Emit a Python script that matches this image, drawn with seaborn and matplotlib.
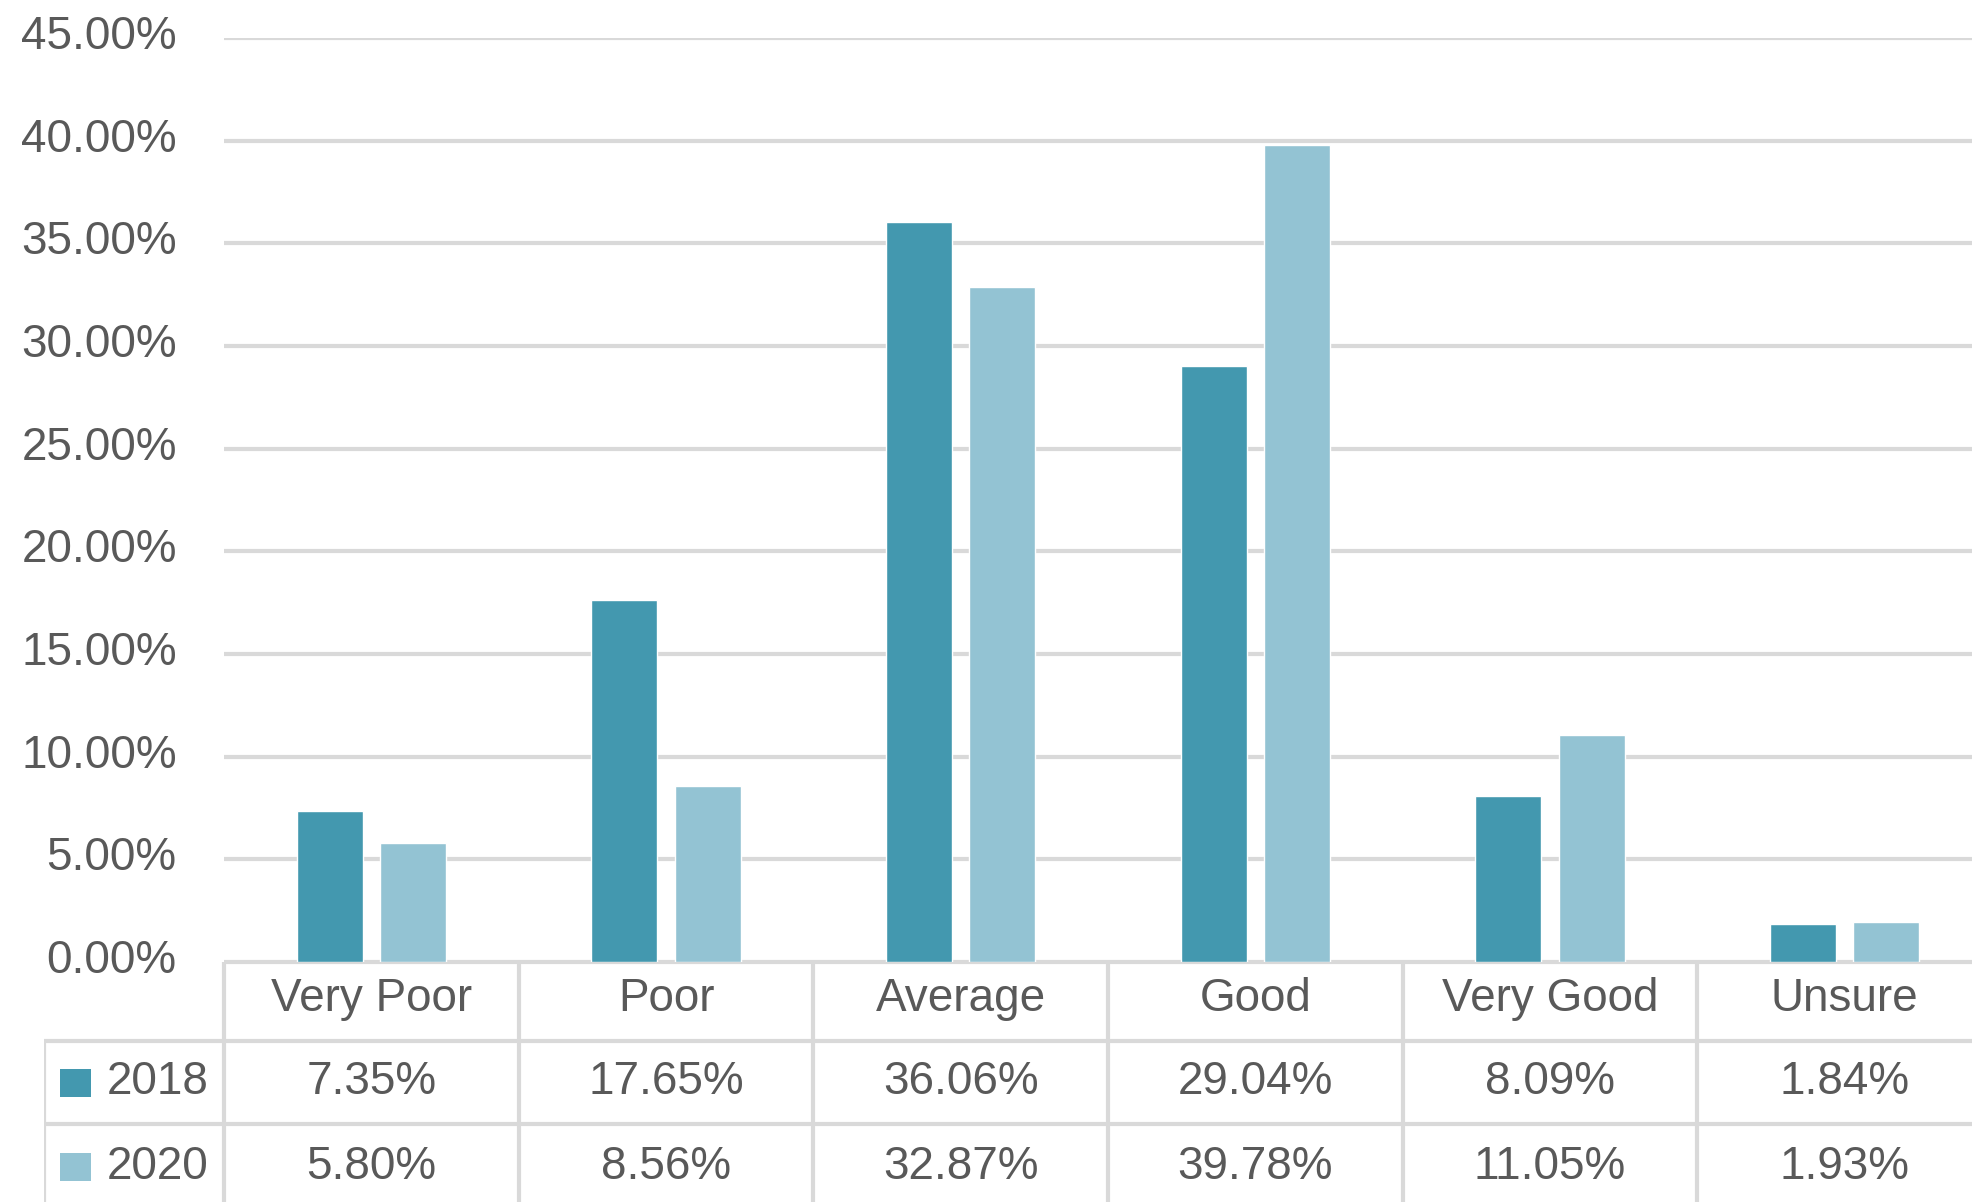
"""
Grouped bar chart with an Excel-style data table underneath: 2018 vs 2020 ratings.
"""
import pandas as pd
import seaborn as sns
import matplotlib.pyplot as plt
from matplotlib.patches import Rectangle
from matplotlib.transforms import ScaledTranslation

# data
categories = ['Very Poor', 'Poor', 'Average', 'Good', 'Very Good', 'Unsure']
years = ['2018', '2020']
values_2018 = [7.35, 17.65, 36.06, 29.04, 8.09, 1.84]
values_2020 = [5.80, 8.56, 32.87, 39.78, 11.05, 1.93]
colors = ['#4398AF', '#93C3D3']

df = pd.DataFrame({
    'category': categories * 2,
    'year': [years[0]] * len(categories) + [years[1]] * len(categories),
    'value': values_2018 + values_2020,
})

sns.set_style('white')
plt.rcParams['font.family'] = ['Liberation Sans', 'DejaVu Sans']

W, H = 1972, 1202
GRID = '#D9D9D9'
TEXT = '#595959'
FS = 33
LW = 3.0

fig = plt.figure(figsize=(W / 100, H / 100), dpi=100)


def box(x0, y0, x1, y1):
    """pixel box (top-left origin) -> figure fraction rect"""
    return [x0 / W, 1 - y1 / H, (x1 - x0) / W, (y1 - y0) / H]


# main bar axes
ax = fig.add_axes(box(224, 38, 1992, 962))
sns.barplot(df, x='category', y='value', hue='year', order=categories,
            hue_order=years, palette=colors, saturation=1,
            width=0.565, gap=0.21, legend=False, ax=ax)
ax.set_xlim(-0.5, len(categories) - 0.5)
ax.set_ylim(0, 45)
ax.set_yticks(range(0, 50, 5))
ax.set_yticklabels([f'{v:.2f}%' for v in range(0, 50, 5)], fontsize=FS, color=TEXT)
ax.set_xticks([])
ax.set_xlabel('')
ax.set_ylabel('')
ax.tick_params(axis='y', length=0, pad=34)
# Excel puts the labels a touch above the gridline
shift = ScaledTranslation(0, 6 / 100, fig.dpi_scale_trans)
for lbl in ax.get_yticklabels():
    lbl.set_transform(lbl.get_transform() + shift)
ax.yaxis.grid(True, color=GRID, linewidth=LW)
ax.set_axisbelow(True)
for side in ['top', 'right', 'left', 'bottom']:
    ax.spines[side].set_visible(False)

# data table under the plot (x in category units, y in pixels from axis line)
px_per_cat = (1992 - 224) / len(categories)
x_left = -0.5 - (224 - 44) / px_per_cat
n = len(categories)
row_tops = [0, 79, 162, 248]

tax = fig.add_axes(box(44, 962, 1992, 1210))
tax.set_xlim(x_left, n - 0.5)
tax.set_ylim(row_tops[-1], 0)
tax.axis('off')

tax.plot([-0.5, n - 0.5], [0, 0], color=GRID, lw=LW, solid_capstyle='butt')
for y in row_tops[1:3]:
    tax.plot([x_left, n - 0.5], [y, y], color=GRID, lw=LW, solid_capstyle='butt')
for i in range(n + 1):
    tax.plot([i - 0.5, i - 0.5], [0, row_tops[-1]], color=GRID, lw=LW, solid_capstyle='butt')
tax.plot([x_left, x_left], [row_tops[1], row_tops[-1]], color=GRID, lw=LW, solid_capstyle='butt')

for i, cat in enumerate(categories):
    tax.text(i, 37, cat, ha='center', va='center', fontsize=FS, color=TEXT)

for r, (year, vals) in enumerate(zip(years, [values_2018, values_2020])):
    yc = (row_tops[r + 1] + row_tops[r + 2]) / 2
    for i, v in enumerate(vals):
        tax.text(i, yc, f'{v:.2f}%', ha='center', va='center', fontsize=FS, color=TEXT)
    sq_x = x_left + 16 / px_per_cat
    tax.add_patch(Rectangle((sq_x, yc - 14), 31 / px_per_cat, 28,
                            facecolor=colors[r], edgecolor='none'))
    tax.text(x_left + 63 / px_per_cat, yc, year, ha='left', va='center',
             fontsize=FS, color=TEXT)

plt.savefig('out.png', dpi=100)
plt.close()
